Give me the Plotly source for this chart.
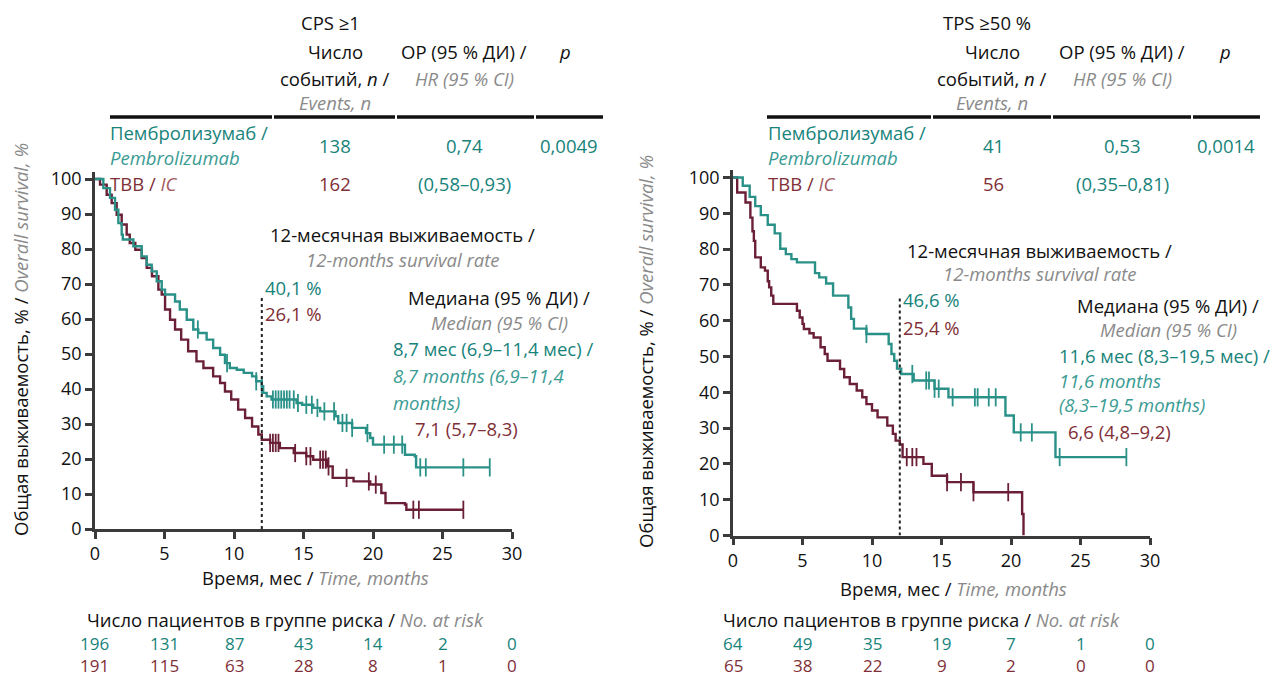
import plotly.graph_objects as go

W, H = 1277, 676

# ---------------- data ----------------
months_ticks = [0, 5, 10, 15, 20, 25, 30]
surv_ticks = [0, 10, 20, 30, 40, 50, 60, 70, 80, 90, 100]

# CPS >= 1 panel
cps_pem_t = [0, 0.6, 1.08, 1.44, 1.68, 1.92, 2.0, 2.76, 3.36, 3.72, 4.08, 4.44, 4.8, 5.04, 5.76, 6.1, 6.6,
             7.07, 7.43, 8.03, 8.5, 9.0, 9.35, 9.7, 10.2, 10.7, 11.3, 11.6, 12.0, 12.1, 12.35, 12.7, 14.5,
             14.9, 15.7, 16.2, 17.3, 17.5, 18.5, 19.5, 19.8, 20.0, 22.3, 23.0, 23.1, 28.4]
cps_pem_s = [100, 97.4, 94.6, 91.2, 87.4, 84.1, 82.7, 80.8, 77.9, 75.5, 73.6, 70.8, 68.4, 67.0, 65.0, 62.7, 59.8,
             57.0, 56.0, 54.1, 51.7, 49.8, 47.4, 46.0, 45.5, 44.6, 43.6, 42.2, 40.8, 38.9, 37.9, 37.0, 36.0,
             35.5, 34.6, 33.6, 32.2, 30.3, 28.9, 27.4, 26.0, 24.1, 21.2, 20.8, 17.6, 17.6]
cps_pem_cens = [7.4, 9.5, 11.6, 12.0, 12.8, 13.0, 13.2, 13.4, 13.6, 13.8, 14.0, 14.3, 14.6, 15.2, 15.6, 16.0,
                16.5, 17.2, 17.8, 18.1, 18.5, 19.6, 20.8, 21.5, 22.1, 23.4, 23.8, 26.5, 28.4]

cps_ic_t = [0, 0.36, 0.84, 1.2, 1.56, 1.92, 2.28, 2.5, 2.9, 3.36, 3.72, 4.1, 4.56, 4.8, 5.04, 5.4, 5.76, 6.2,
            6.7, 7.3, 7.8, 8.5, 9.0, 9.35, 9.8, 10.3, 10.8, 11.3, 11.75, 12.0, 12.6, 13.3, 14.3, 15.2, 15.7,
            16.7, 17.1, 18.6, 19.8, 20.6, 20.9, 22.3, 22.4, 26.5]
cps_ic_s = [100, 98.4, 95.5, 93.1, 89.8, 87.0, 84.1, 81.7, 79.8, 77.4, 74.6, 72.2, 68.4, 67.0, 62.7, 59.8, 57.0,
            54.1, 50.8, 47.9, 46.0, 43.6, 41.7, 39.3, 37.0, 34.1, 31.7, 29.3, 27.0, 25.5, 24.6, 23.1, 21.7,
            20.8, 19.8, 17.9, 14.6, 13.6, 12.7, 10.3, 7.4, 7.0, 5.5, 5.5]
cps_ic_cens = [12.6, 12.8, 13.0, 13.2, 14.4, 15.2, 15.5, 16.2, 16.4, 16.6, 16.8, 18.1, 19.7, 20.2, 22.9, 23.3,
               26.5]

cps_risk_pem = [196, 131, 87, 43, 14, 2, 0]
cps_risk_ic = [191, 115, 63, 28, 8, 1, 0]

# TPS >= 50 % panel
tps_pem_t = [0, 0.7, 1.2, 1.6, 2.0, 2.5, 3.0, 3.4, 3.8, 4.2, 4.6, 5.9, 6.2, 6.7, 7.2, 8.3, 8.5, 8.7, 9.6,
             11.2, 11.4, 11.6, 11.8, 12.1, 13.0, 14.5, 15.5, 19.6, 20.2, 23.2, 28.3]
tps_pem_s = [100, 97.7, 94.6, 92.0, 89.5, 86.8, 84.4, 80.1, 78.6, 77.2, 76.3, 73.3, 72.1, 70.4, 67.0, 63.7,
             60.5, 57.8, 56.3, 53.5, 50.7, 48.8, 46.6, 45.1, 43.3, 41.0, 38.6, 33.5, 28.8, 21.9, 21.9]
tps_pem_cens = [9.6, 12.9, 13.9, 14.1, 14.5, 14.8, 15.8, 17.4, 17.6, 18.4, 18.9, 20.7, 21.5, 23.5, 28.3]

tps_ic_t = [0, 0.3, 0.9, 1.25, 1.4, 1.5, 1.6, 2.0, 2.3, 2.5, 2.6, 2.75, 2.9, 4.6, 4.8, 5.0, 5.1, 5.5, 5.8,
            6.3, 6.6, 6.8, 7.7, 8.0, 8.4, 8.9, 9.3, 9.6, 10.0, 10.4, 11.1, 11.5, 11.7, 12.0, 12.2, 13.7,
            14.3, 15.4, 17.3, 20.8, 20.9]
tps_ic_s = [100, 95.8, 93.0, 88.8, 85.0, 82.3, 77.7, 74.9, 74.0, 71.0, 69.3, 67.0, 64.7, 62.8, 60.9, 59.1,
            57.7, 56.5, 55.3, 52.6, 50.7, 48.8, 46.5, 44.2, 42.3, 40.5, 38.6, 36.7, 34.9, 33.0, 30.7, 28.4,
            26.5, 25.4, 21.9, 20.0, 16.7, 14.9, 12.1, 6.0, 0.0]
tps_ic_cens = [12.5, 12.9, 13.2, 15.4, 16.4, 17.3, 19.8]

tps_risk_pem = [64, 49, 35, 19, 7, 1, 0]
tps_risk_ic = [65, 38, 22, 9, 2, 0, 0]

# ---------------- style ----------------
FONT = "Open Sans"
TEAL = "#17837a"
TEAL_L = "#3a9b93"
TEAL_LINE = "#2a9188"
RED = "#7f2f37"
RED_L = "#a4585d"
RED_LINE = "#6a1f36"
GRAY = "#8a8a8a"
AX = "#3a3a3a"
FS = 18.5
FS_RISK = 17


def px(x):
    return x / W


def py(y):
    return 1 - y / H


def surv_at(ts, ss, t):
    v = ss[0]
    for ti, si in zip(ts, ss):
        if ti <= t:
            v = si
    return v


fig = go.Figure()

panels = [
    dict(xa="x", ya="y", pem=(cps_pem_t, cps_pem_s, cps_pem_cens), ic=(cps_ic_t, cps_ic_s, cps_ic_cens)),
    dict(xa="x2", ya="y2", pem=(tps_pem_t, tps_pem_s, tps_pem_cens), ic=(tps_ic_t, tps_ic_s, tps_ic_cens)),
]

for p in panels:
    for key, col in (("ic", RED_LINE), ("pem", TEAL_LINE)):
        ts, ss, cens = p[key]
        fig.add_trace(go.Scatter(x=ts, y=ss, mode="lines", line=dict(color=col, width=2.4, shape="hv"),
                                 xaxis=p["xa"], yaxis=p["ya"], showlegend=False, hoverinfo="skip"))
        fig.add_trace(go.Scatter(x=cens, y=[surv_at(ts, ss, c) for c in cens], mode="markers",
                                 marker=dict(symbol="line-ns", size=13, line=dict(color=col, width=1.8)),
                                 xaxis=p["xa"], yaxis=p["ya"], showlegend=False, hoverinfo="skip"))

axis_common = dict(showgrid=False, zeroline=False, showline=True, linecolor=AX, linewidth=2.5,
                   ticks="outside", ticklen=7, tickwidth=2.5, tickcolor=AX, automargin=False,
                   tickfont=dict(family=FONT, size=18, color="#111"))

# panel geometry (pixels)
L_x0, L_x30, L_y0, L_y100 = 95, 512, 529, 179
R_x0, R_x30, R_y0, R_y100 = 733, 1150, 535.5, 177.5
YTOP = 102


def ydom(y0, y100):
    top = y100 - (YTOP - 100) * (y0 - y100) / 100
    return [py(y0), py(top)]


fig.update_layout(
    width=W, height=H, autosize=False, margin=dict(l=0, r=0, t=0, b=0, pad=0),
    paper_bgcolor="white", plot_bgcolor="white",
    font=dict(family=FONT, size=FS, color="#111"),
    xaxis=dict(domain=[px(L_x0), px(L_x30)], range=[0, 30], tickvals=months_ticks, anchor="y", **axis_common),
    yaxis=dict(domain=ydom(L_y0, L_y100), range=[0, YTOP], tickvals=surv_ticks, anchor="x", **axis_common),
    xaxis2=dict(domain=[px(R_x0), px(R_x30)], range=[0, 30], tickvals=months_ticks, anchor="y2", **axis_common),
    yaxis2=dict(domain=ydom(R_y0, R_y100), range=[0, YTOP], tickvals=surv_ticks, anchor="x2", **axis_common),
)

# 12-month dotted lines
for xa, ya, top in (("x", "y", 66.5), ("x2", "y2", 66.7)):
    fig.add_shape(type="line", xref=xa, yref=ya, x0=12, x1=12, y0=0, y1=top,
                  line=dict(color="#222", width=2, dash="dot"))

# header rules
for segs, y in (([(110, 272), (274, 395), (397, 534), (536, 603)], 117),
                ([(767, 931), (933, 1051), (1053, 1191), (1193, 1260)], 117)):
    for a, b in segs:
        fig.add_shape(type="line", xref="paper", yref="paper", x0=px(a), x1=px(b), y0=py(y), y1=py(y),
                      line=dict(color="#111", width=3.5))


def txt(x, y, s, color="#111", anchor="center", size=FS, angle=0):
    fig.add_annotation(x=px(x), y=py(y), xref="paper", yref="paper", text=s, showarrow=False,
                       xanchor=anchor, yanchor="middle", textangle=angle, borderpad=0,
                       font=dict(family=FONT, size=size, color=color))


def gi(s):
    return f"<span style='color:{GRAY}'><i>{s}</i></span>"


# ---- left panel texts
txt(330, 22, "CPS ≥1")
txt(335, 52, "Число")
txt(335, 78, "событий, <i>n</i> /")
txt(335, 102, gi("Events, n"))
txt(464, 52, "ОР (95 % ДИ) /")
txt(465, 78, gi("HR (95 % CI)"))
txt(565, 52, "<i>p</i>")
txt(109, 133, "Пембролизумаб /", TEAL, "left")
txt(109, 158, "<i>Pembrolizumab</i>", TEAL_L, "left")
txt(335, 145, "138", TEAL)
txt(465, 145, "0,74", TEAL)
txt(599, 145, "0,0049", TEAL, "right")
txt(109, 183, f"ТВВ / <span style='color:{RED_L}'><i>IC</i></span>", RED, "left")
txt(335, 183, "162", RED)
txt(465, 183, "(0,58–0,93)", TEAL)
txt(402, 235, "12-месячная выживаемость /")
txt(403, 259, gi("12-months survival rate"))
txt(264, 287, "40,1 %", TEAL, "left")
txt(264, 313, "26,1 %", RED, "left")
txt(499, 298, "Медиана (95 % ДИ) /")
txt(499, 322.5, gi("Median (95 % CI)"))
txt(392, 348, "8,7 мес (6,9–11,4 мес) /", TEAL, "left")
txt(392, 375, "<i>8,7 months (6,9–11,4</i>", TEAL_L, "left")
txt(392, 402, "<i>months)</i>", TEAL_L, "left")
txt(414, 428, "7,1 (5,7–8,3)", RED, "left")
txt(20, 340, "Общая выживаемость, % / " + gi("Overall survival, %"), angle=-90)
txt(315, 577, "Время, мес / " + gi("Time, months"))
txt(285, 619, "Число пациентов в группе риска / " + gi("No. at risk"))

# ---- right panel texts
txt(987, 22, "TPS ≥50 %")
txt(992, 52, "Число")
txt(992, 78, "событий, <i>n</i> /")
txt(992, 102, gi("Events, n"))
txt(1122, 52, "ОР (95 % ДИ) /")
txt(1122, 78, gi("HR (95 % CI)"))
txt(1225, 52, "<i>p</i>")
txt(767, 133, "Пембролизумаб /", TEAL, "left")
txt(767, 158, "<i>Pembrolizumab</i>", TEAL_L, "left")
txt(993, 145, "41", TEAL)
txt(1122, 145, "0,53", TEAL)
txt(1256, 145, "0,0014", TEAL, "right")
txt(767, 183, f"ТВВ / <span style='color:{RED_L}'><i>IC</i></span>", RED, "left")
txt(993, 183, "56", RED)
txt(1122, 183, "(0,35–0,81)", TEAL)
txt(1039, 250, "12-месячная выживаемость /")
txt(1040, 273, gi("12-months survival rate"))
txt(902, 299, "46,6 %", TEAL, "left")
txt(902, 327, "25,4 %", RED, "left")
txt(1168, 305.5, "Медиана (95 % ДИ) /")
txt(1168, 330, gi("Median (95 % CI)"))
txt(1058, 355, "11,6 мес (8,3–19,5 мес) /", TEAL, "left")
txt(1058, 380, "<i>11,6 months</i>", TEAL_L, "left")
txt(1058, 404.5, "<i>(8,3–19,5 months)</i>", TEAL_L, "left")
txt(1067, 431, "6,6 (4,8–9,2)", RED, "left")
txt(645, 352, "Общая выживаемость, % / " + gi("Overall survival, %"), angle=-90)
txt(953, 588, "Время, мес / " + gi("Time, months"))
txt(921, 619, "Число пациентов в группе риска / " + gi("No. at risk"))

# ---- number at risk rows (positioned on the time axis)
for xa, pem, ic in (("x", cps_risk_pem, cps_risk_ic), ("x2", tps_risk_pem, tps_risk_ic)):
    for t, a, b in zip(months_ticks, pem, ic):
        fig.add_annotation(x=t, xref=xa, y=py(643), yref="paper", text=str(a), showarrow=False, borderpad=0,
                           xanchor="center", yanchor="middle", font=dict(family=FONT, size=FS_RISK, color=TEAL))
        fig.add_annotation(x=t, xref=xa, y=py(665), yref="paper", text=str(b), showarrow=False, borderpad=0,
                           xanchor="center", yanchor="middle", font=dict(family=FONT, size=FS_RISK, color=RED))

fig.write_html("out.html", config={"responsive": False, "displayModeBar": False})
